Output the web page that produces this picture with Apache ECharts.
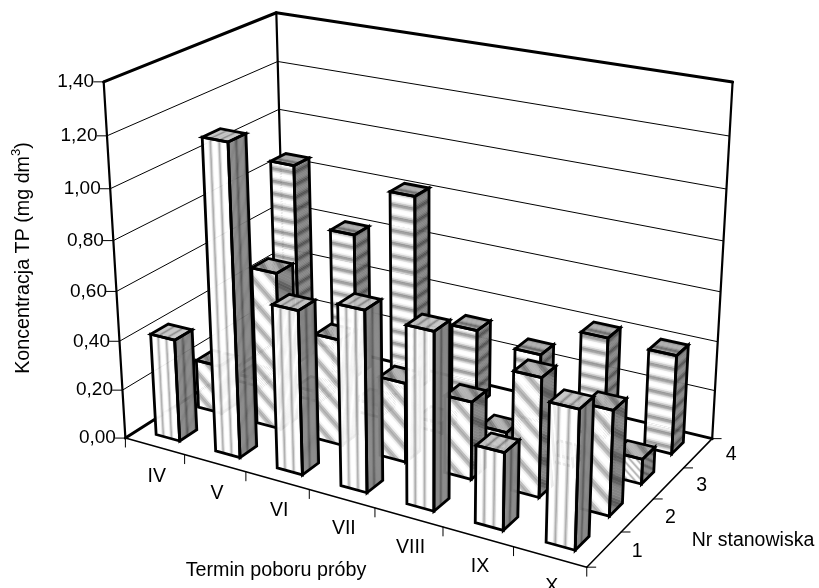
<!DOCTYPE html>
<html>
<head>
<meta charset="utf-8">
<style>
  html, body { margin: 0; padding: 0; background: #fff; }
  #chart { width: 819px; height: 588px; }
</style>
<script src="https://cdn.jsdelivr.net/npm/echarts@6/dist/echarts.min.js"></script>
</head>
<body>
<div id="chart"></div>
<script>
const months = ['IV', 'V', 'VI', 'VII', 'VIII', 'IX', 'X']
const stations = ['1', '2', '3', '4']
const yTicks = [0, 0.2, 0.4, 0.6, 0.8, 1.0, 1.2, 1.4]
const yLabels = ['0,00', '0,20', '0,40', '0,60', '0,80', '1,00', '1,20', '1,40']

const station1 = [0.415, 1.23, 0.65, 0.71, 0.69, 0.30, 0.53]
const station2 = [0.20, 0.64, 0.43, 0.32, 0.31, 0.47, 0.41]
const station3 = [0.03, 0.04, 0.05, 0.04, 0.07, 0.03, 0.10]
const station4 = [0.85, 0.61, 0.82, 0.32, 0.28, 0.41, 0.40]

const FONT = '"Liberation Sans", Arial, sans-serif'
const BAR = 0.4

// corners of the 3D box on screen, [u, v, h] -> [x, y]
const anchors = [
  [0, 0, 0, 126, 437], [1, 0, 0, 587, 568], [1, 1, 0, 712, 438], [0, 1, 0, 285, 338],
  [0, 0, 1, 103, 83], [0, 1, 1, 277, 13], [1, 1, 1, 733, 83],
  [0, 0, 5 / 7, 110, 188], [1, 1, 5 / 7, 726, 188], [0, 1, 5 / 7, 279, 108],
]

// least squares fit of the perspective matrix
function fitProjection(pts) {
  const rows = []
  pts.forEach(([u, v, h, x, y]) => {
    rows.push([u, v, h, 1, 0, 0, 0, 0, -x * u, -x * v, -x * h, x])
    rows.push([0, 0, 0, 0, u, v, h, 1, -y * u, -y * v, -y * h, y])
  })
  const n = 11
  const m = []
  for (let i = 0; i < n; i++) {
    m[i] = []
    for (let j = 0; j <= n; j++) {
      let sum = 0
      rows.forEach((r) => { sum += r[i] * r[j] })
      m[i][j] = sum
    }
  }
  for (let i = 0; i < n; i++) {
    let best = i
    for (let k = i + 1; k < n; k++) if (Math.abs(m[k][i]) > Math.abs(m[best][i])) best = k
    const tmp = m[i]; m[i] = m[best]; m[best] = tmp
    for (let k = 0; k < n; k++) {
      if (k === i) continue
      const f = m[k][i] / m[i][i]
      for (let j = i; j <= n; j++) m[k][j] -= f * m[i][j]
    }
  }
  return m.map((r, i) => r[n] / r[i])
}
const P = fitProjection(anchors)

function project(u, v, h) {
  const w = P[8] * u + P[9] * v + P[10] * h + 1
  return [
    (P[0] * u + P[1] * v + P[2] * h + P[3]) / w,
    (P[4] * u + P[5] * v + P[6] * h + P[7]) / w,
  ]
}

function clipBand(w0, w1, a, b) {
  let poly = [[0, 0], [1, 0], [1, 1], [0, 1]]
  const cut = (limit, sign) => {
    const out = []
    poly.forEach((p, i) => {
      const q = poly[(i + 1) % poly.length]
      const dp = sign * (a * p[0] + b * p[1] - limit)
      const dq = sign * (a * q[0] + b * q[1] - limit)
      if (dp >= 0) out.push(p)
      if ((dp >= 0) !== (dq >= 0)) {
        const r = dp / (dp - dq)
        out.push([p[0] + (q[0] - p[0]) * r, p[1] + (q[1] - p[1]) * r])
      }
    })
    poly = out
  }
  cut(w0, 1)
  if (poly.length) cut(w1, -1)
  return poly
}

function shadeColor(c, k) {
  const g = Math.round(c * k)
  return 'rgb(' + g + ',' + g + ',' + g + ')'
}

// bands of the pattern over one face; toWorld maps (s,t) in the unit square
function faceBands(toWorld, a, b, profile, shade) {
  const out = []
  const n = profile.length
  const lo = Math.min(0, a) + Math.min(0, b)
  const hi = Math.max(0, a) + Math.max(0, b)
  for (let k = Math.floor(lo * n) - 1; k <= Math.ceil(hi * n); k++) {
    const poly = clipBand(k / n, (k + 1) / n, a, b)
    if (poly.length < 3) continue
    const col = shadeColor(profile[((k % n) + n) % n], shade)
    out.push({
      type: 'polygon',
      shape: { points: poly.map((p) => { const w = toWorld(p[0], p[1]); return project(w[0], w[1], w[2]) }) },
      style: { fill: col, stroke: col, lineWidth: 0.5 },
    })
  }
  return out
}

function outline(points) {
  return {
    type: 'polygon',
    shape: { points: points },
    style: { fill: 'none', stroke: '#000', lineWidth: 2.8, lineJoin: 'miter' },
  }
}

const stripeProfile = [210, 250, 255, 255, 255, 250, 210, 165]
const bandProfile = [255, 250, 215, 165, 150, 200, 240, 255]
const slantProfile = [255, 255, 255, 240, 190, 170, 190, 240]

function stripeSpec(kind, value, fine) {
  if (kind === 'v') return { front: [2.9, 0], side: [2, 0], top: [2.9, 0], topShade: 0.78 }
  if (kind === 'h') {
    const n = value / 0.053
    return { front: [0, n], side: [0, n], top: [0, 1.5], topShade: 0.68 }
  }
  const p = fine ? 0.03 : 0.09
  return { front: [0.094 / p, value / p], side: [0.07 / p, value / p], top: [1.2, 1.2], topShade: 0.7 }
}

function barItem(kind, fine, station, profile) {
  return function (params, api) {
    const cs = params.coordSys
    const c = api.coord([api.value(0), api.value(1)])
    const bw = api.size([1, 0])[0] / cs.width
    const uc = (c[0] - cs.x) / cs.width
    const h = (cs.y + cs.height - c[1]) / cs.height
    const value = api.value(1)
    const w = bw * BAR
    const d = (1 / stations.length) * BAR
    const u0 = uc - w / 2
    const u1 = uc + w / 2
    const v0 = (station + 0.5) / stations.length - d / 2
    const v1 = v0 + d
    const spec = stripeSpec(kind, value, fine)
    const front = (s, t) => [u0 + s * w, v0, h * t]
    const side = (s, t) => [u1, v0 + s * d, h * t]
    const top = (s, t) => [u0 + s * w, v0 + t * d, h]
    const children = []
      .concat(faceBands(side, spec.side[0], spec.side[1], profile, 0.52))
      .concat(faceBands(top, spec.top[0], spec.top[1], profile, spec.topShade))
      .concat(faceBands(front, spec.front[0], spec.front[1], profile, 1))
    const a = project(u0, v0, 0), b = project(u1, v0, 0), e = project(u1, v1, 0)
    const a2 = project(u0, v0, h), b2 = project(u1, v0, h), e2 = project(u1, v1, h), f2 = project(u0, v1, h)
    children.push(outline([a, b, b2, a2]))
    children.push(outline([b, e, e2, b2]))
    children.push(outline([a2, b2, e2, f2]))
    return { type: 'group', children: children }
  }
}

function seg(p, q, width) {
  return {
    type: 'line',
    shape: { x1: p[0], y1: p[1], x2: q[0], y2: q[1] },
    style: { stroke: '#000', lineWidth: width, lineCap: 'round' },
  }
}

function label(text, x, y, align, size) {
  return {
    type: 'text',
    style: { text: text, x: x, y: y, align: align, verticalAlign: 'middle', fill: '#000', font: size + 'px ' + FONT },
  }
}

function frameItem() {
  const ch = []
  const top = 1
  // gridlines on the two back walls
  yTicks.forEach((t, i) => {
    const h = t / yTicks[yTicks.length - 1]
    const fl = project(0, 0, h)
    const bl = project(0, 1, h)
    const br = project(1, 1, h)
    if (i > 0 && i < yTicks.length - 1) {
      ch.push(seg(fl, bl, 1))
      ch.push(seg(bl, br, 1))
    }
    ch.push(seg([fl[0] - 10, fl[1]], fl, 1))
    ch.push(label(yLabels[i], fl[0] - 9.5, fl[1], 'right', 19))
  })
  // box edges
  ch.push(seg(project(0, 0, 0), project(0, 0, top), 2.2))
  ch.push(seg(project(0, 0, top), project(0, 1, top), 3))
  ch.push(seg(project(0, 1, top), project(1, 1, top), 3))
  ch.push(seg(project(1, 1, top), project(1, 1, 0), 2.2))
  ch.push(seg(project(0, 1, top), project(0, 1, 0), 2.2))
  ch.push(seg(project(0, 0, 0), project(0, 1, 0), 3))
  ch.push(seg(project(0, 1, 0), project(1, 1, 0), 3))
  ch.push(seg(project(0, 0, 0), project(1, 0, 0), 1.5))
  ch.push(seg(project(1, 0, 0), project(1, 1, 0), 1.5))
  // month ticks and labels
  for (let i = 0; i <= months.length; i++) {
    const p = project(i / months.length, 0, 0)
    ch.push(seg(p, [p[0], p[1] + 9], 1))
  }
  months.forEach((m, i) => {
    const p = project((i + 0.5) / months.length, 0, 0)
    ch.push(label(m, p[0] + 2, p[1] + 30, 'center', 19.5))
  })
  // station ticks and labels
  for (let i = 0; i <= stations.length; i++) {
    const p = project(1, i / stations.length, 0)
    ch.push(seg(p, [p[0] + 9, p[1]], 1))
  }
  stations.forEach((s, i) => {
    const p = project(1, (i + 0.5) / stations.length, 0)
    ch.push(label(s, p[0] + 33, p[1] + 2, 'center', 19.5))
  })
  ch.push(label('Termin poboru próby', 276, 571, 'center', 19.7))
  ch.push(label('Nr stanowiska', 753, 541, 'center', 19.5))
  ch.push({
    type: 'text',
    x: 22,
    y: 258,
    rotation: Math.PI / 2,
    style: {
      text: '{a|Koncentracja TP (mg dm}{b|3}{a|)}',
      align: 'center',
      verticalAlign: 'middle',
      fill: '#000',
      rich: {
        a: { font: '19.7px ' + FONT, fill: '#000', lineHeight: 24, verticalAlign: 'bottom' },
        b: { font: '13px ' + FONT, fill: '#000', lineHeight: 16, verticalAlign: 'top' },
      },
    },
  })
  return { type: 'group', children: ch }
}

function barData(values) {
  return values.map((v, i) => [i, v])
}

const chart = echarts.init(document.getElementById('chart'), null, { renderer: 'canvas' })

function barSeries(name, values, station, kind, fine, profile) {
  return {
    name: name,
    type: 'custom',
    silent: true,
    clip: false,
    renderItem: barItem(kind, fine, station, profile),
    encode: { x: 0, y: 1 },
    data: barData(values),
  }
}

chart.setOption({
  animation: false,
  backgroundColor: '#fff',
  grid: { left: 0, right: 0, top: 0, bottom: 0 },
  xAxis: { type: 'category', data: months, show: false },
  yAxis: { type: 'value', min: 0, max: 1.4, interval: 0.2, show: false },
  series: [
    {
      type: 'custom',
      silent: true,
      clip: false,
      renderItem: frameItem,
      data: [[0, 0]],
    },
    barSeries('4', station4, 3, 'h', false, bandProfile),
    barSeries('3', station3, 2, 'd', true, slantProfile),
    barSeries('2', station2, 1, 'd', false, slantProfile),
    barSeries('1', station1, 0, 'v', false, stripeProfile),
  ],
})
</script>
</body>
</html>
